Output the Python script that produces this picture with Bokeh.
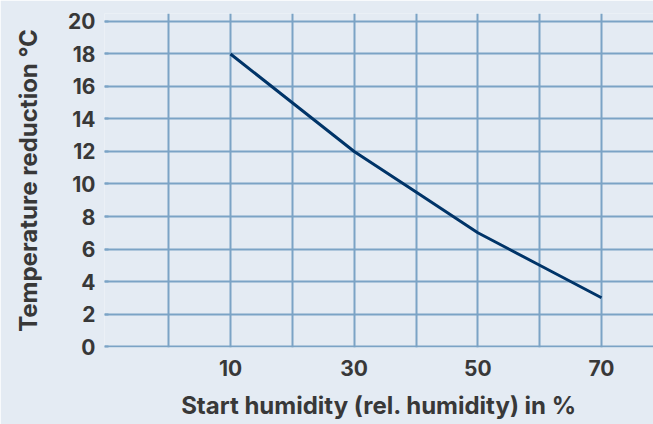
from bokeh.plotting import figure
from bokeh.models import FixedTicker, Range1d
from bokeh.embed import file_html
from bokeh.resources import INLINE

humidity = [10, 20, 30, 40, 50, 60, 70]
reduction = [18, 15, 12, 9.5, 7, 5, 3]
x_ticks = [10, 30, 50, 70]
x_grid = [0, 10, 20, 30, 40, 50, 60, 70]
y_ticks = [0, 2, 4, 6, 8, 10, 12, 14, 16, 18, 20]

BG = "#e4ebf3"
GRID = "#7ba3c5"
TEXT = "#383838"
FONT = "Inter"

p = figure(width=653, height=424, output_backend="svg", toolbar_location=None,
           x_range=Range1d(-10.38, 78.41), y_range=Range1d(-0.06, 20.49),
           min_border_left=104, min_border_right=0, min_border_top=13, min_border_bottom=77)
p.background_fill_color = BG
p.border_fill_color = BG
p.outline_line_color = None

p.line(humidity, reduction, line_color="#003468", line_width=3)

p.xgrid.ticker = FixedTicker(ticks=x_grid)
p.ygrid.ticker = FixedTicker(ticks=y_ticks)
for g in (p.xgrid, p.ygrid):
    g.grid_line_color = GRID
    g.grid_line_width = 2

p.xaxis.ticker = FixedTicker(ticks=x_ticks)
p.yaxis.ticker = FixedTicker(ticks=y_ticks)
for ax in (p.xaxis, p.yaxis):
    ax.axis_line_color = None
    ax.minor_tick_line_color = None
    ax.major_label_text_font = FONT
    ax.major_label_text_font_style = "bold"
    ax.major_label_text_font_size = "21px"
    ax.major_label_text_color = TEXT
    ax.axis_label_text_font = FONT
    ax.axis_label_text_font_style = "bold"
    ax.axis_label_text_font_size = "24px"
    ax.axis_label_text_color = TEXT

p.xaxis.major_tick_line_color = None
p.xaxis.major_label_standoff = 6
p.xaxis.axis_label = "Start humidity (rel. humidity) in %"
p.xaxis.axis_label_standoff = 12

p.yaxis.major_tick_line_color = GRID
p.yaxis.major_tick_line_width = 2
p.yaxis.major_tick_in = 4
p.yaxis.major_tick_out = 0
p.yaxis.major_label_standoff = 9
p.yaxis.axis_label = "Temperature reduction °C"
p.yaxis.axis_label_standoff = 22

open("out.html", "w").write(file_html(p, INLINE))
